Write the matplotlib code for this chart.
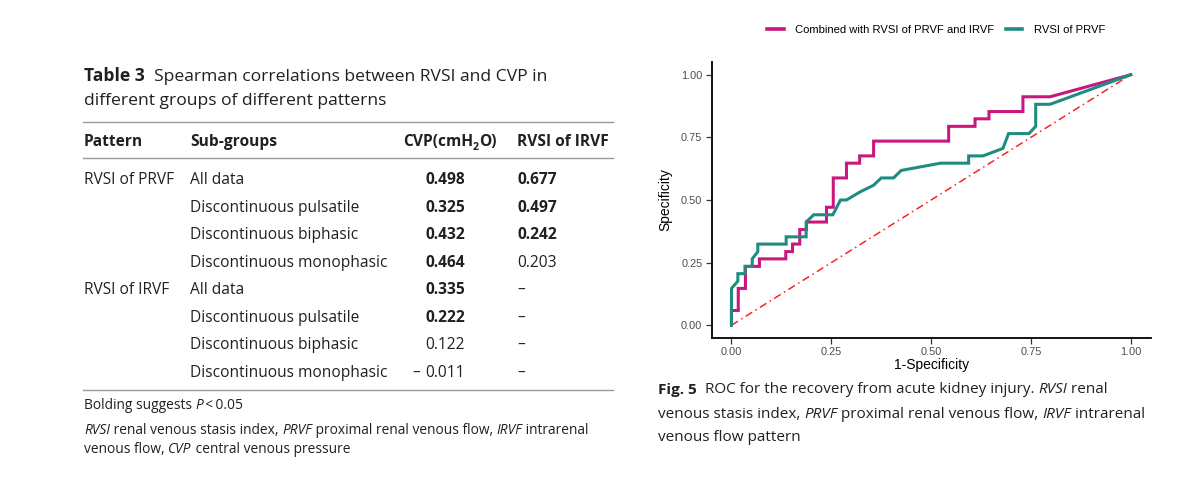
import matplotlib
matplotlib.use('Agg')
import matplotlib.pyplot as plt

# ---- table data ----
patterns = ['RVSI of PRVF', '', '', '', 'RVSI of IRVF', '', '', '']
subgroups = ['All data', 'Discontinuous pulsatile', 'Discontinuous biphasic',
             'Discontinuous monophasic', 'All data', 'Discontinuous pulsatile',
             'Discontinuous biphasic', 'Discontinuous monophasic']
cvp_rho = [0.498, 0.325, 0.432, 0.464, 0.335, 0.222, 0.122, -0.011]
cvp_sig = [True, True, True, True, True, True, False, False]
irvf_rho = [0.677, 0.497, 0.242, 0.203, None, None, None, None]
irvf_sig = [True, True, True, False, False, False, False, False]

# ---- ROC data ----
combo_fpr = [0, 0, 0.017, 0.017, 0.035, 0.035, 0.070, 0.070, 0.136, 0.136, 0.153, 0.153,
             0.171, 0.171, 0.188, 0.188, 0.238, 0.238, 0.255, 0.255, 0.288, 0.288, 0.321,
             0.321, 0.356, 0.356, 0.544, 0.544, 0.610, 0.610, 0.645, 0.645, 0.730, 0.730,
             0.798, 1.0]
combo_tpr = [0, 0.059, 0.059, 0.147, 0.147, 0.235, 0.235, 0.265, 0.265, 0.294, 0.294, 0.324,
             0.324, 0.382, 0.382, 0.412, 0.412, 0.471, 0.471, 0.588, 0.588, 0.647, 0.647,
             0.676, 0.676, 0.735, 0.735, 0.794, 0.794, 0.824, 0.824, 0.853, 0.853, 0.912,
             0.912, 1.0]
prvf_fpr = [0, 0, 0.016, 0.016, 0.034, 0.034, 0.052, 0.052, 0.066, 0.066, 0.137, 0.137,
            0.187, 0.187, 0.206, 0.254, 0.273, 0.288, 0.323, 0.356, 0.375, 0.406, 0.425,
            0.524, 0.594, 0.594, 0.630, 0.680, 0.694, 0.745, 0.762, 0.762, 0.798, 1.0]
prvf_tpr = [0, 0.147, 0.176, 0.206, 0.206, 0.235, 0.235, 0.265, 0.294, 0.324, 0.324, 0.353,
            0.353, 0.412, 0.441, 0.441, 0.500, 0.500, 0.533, 0.559, 0.588, 0.588, 0.618,
            0.647, 0.647, 0.676, 0.676, 0.706, 0.765, 0.765, 0.794, 0.882, 0.882, 1.0]

TXT = '#231F20'
RULE = '#9A9A9A'
MAGENTA = '#C8177F'
TEAL = '#1F8C82'
BODY = 'Open Sans'
FS = 11.2      # table body
TS = 12.6      # table title
NS = 9.9       # table footnotes
CS = 11.0      # figure caption

fig = plt.figure(figsize=(12, 4.9), dpi=100)
fig.patch.set_facecolor('white')

# overlay axes in pixel units for the typeset parts
ax0 = fig.add_axes([0, 0, 1, 1])
ax0.set_xlim(0, 1200)
ax0.set_ylim(490, 0)
ax0.axis('off')


def rich(x, y, parts, size=FS):
    t = None
    for s, st in parts:
        kw = dict(fontsize=size, color=TXT, fontfamily=BODY,
                  fontweight='bold' if st == 'b' else 'normal',
                  fontstyle='italic' if st == 'i' else 'normal')
        if t is None:
            t = ax0.text(x, y, s, ha='left', va='baseline', **kw)
        else:
            t = ax0.annotate(s, xy=(1, 0), xycoords=t, ha='left', va='bottom', **kw)
    return t


# ---- Table 3 ----
rich(84, 81, [('Table 3', 'b'), ('  Spearman correlations between RVSI and CVP in', 'r')], TS)
rich(84, 105, [('different groups of different patterns', 'r')], TS)

ax0.plot([83, 613], [122.5, 122.5], color=RULE, lw=1.0)
ax0.plot([83, 613], [158.5, 158.5], color=RULE, lw=1.0)
ax0.plot([83, 613], [390, 390], color=RULE, lw=1.0)

hy = 146
ax0.text(84, hy, 'Pattern', fontsize=FS, fontweight='bold', color=TXT, fontfamily=BODY, va='baseline')
ax0.text(190, hy, 'Sub-groups', fontsize=FS, fontweight='bold', color=TXT, fontfamily=BODY, va='baseline')
h1 = ax0.text(403, hy, 'CVP(cmH', fontsize=FS, fontweight='bold', color=TXT, fontfamily=BODY, va='baseline')
h2 = ax0.annotate('2', xy=(1, 0), xycoords=h1, xytext=(0, -2.5), textcoords='offset points',
                  fontsize=FS * 0.68, fontweight='bold', color=TXT, fontfamily=BODY, va='bottom')
ax0.annotate('O)', xy=(1, 0), xycoords=h2, xytext=(0, 2.5), textcoords='offset points',
             fontsize=FS, fontweight='bold', color=TXT, fontfamily=BODY, va='bottom')
ax0.text(517, hy, 'RVSI of IRVF', fontsize=FS, fontweight='bold', color=TXT, fontfamily=BODY, va='baseline')

for i in range(len(subgroups)):
    y = 184 + 27.55 * i
    if patterns[i]:
        ax0.text(84, y, patterns[i], fontsize=FS, color=TXT, fontfamily=BODY, va='baseline')
    ax0.text(190, y, subgroups[i], fontsize=FS, color=TXT, fontfamily=BODY, va='baseline')
    v = cvp_rho[i]
    w = 'bold' if cvp_sig[i] else 'normal'
    ax0.text(425, y, f'{abs(v):.3f}', fontsize=FS, fontweight=w, color=TXT,
             fontfamily=BODY, va='baseline')
    if v < 0:
        ax0.text(420, y, '\u2013', fontsize=FS, fontweight=w, color=TXT,
                 fontfamily=BODY, va='baseline', ha='right')
    r = irvf_rho[i]
    s = '\u2013' if r is None else f'{r:.3f}'
    ax0.text(517, y, s, fontsize=FS, fontweight='bold' if irvf_sig[i] else 'normal',
             color=TXT, fontfamily=BODY, va='baseline')

rich(84, 409, [('Bolding suggests ', 'r'), ('P', 'i'), ('\u2009<\u20090.05', 'r')], NS)
rich(84, 434, [('RVSI', 'i'), (' renal venous stasis index, ', 'r'), ('PRVF', 'i'),
               (' proximal renal venous flow, ', 'r'), ('IRVF', 'i'), (' intrarenal', 'r')], NS)
rich(84, 453, [('venous flow, ', 'r'), ('CVP', 'i'), (' central venous pressure', 'r')], NS)

# ---- Fig. 5 caption ----
rich(658, 394, [('Fig. 5', 'b'), ('  ROC for the recovery from acute kidney injury. ', 'r'),
                ('RVSI', 'i'), (' renal', 'r')], CS)
rich(658, 417.5, [('venous stasis index, ', 'r'), ('PRVF', 'i'),
                  (' proximal renal venous flow, ', 'r'), ('IRVF', 'i'), (' intrarenal', 'r')], CS)
rich(658, 441, [('venous flow pattern', 'r')], CS)

# ---- ROC plot ----
ax = fig.add_axes([711.5 / 1200, 1 - 337.8 / 490, 439.2 / 1200, 275.6 / 490])
ax.plot(combo_fpr, combo_tpr, color=MAGENTA, lw=2.2, label='Combined with RVSI of PRVF and IRVF',
        solid_joinstyle='miter', zorder=3)
ax.plot(prvf_fpr, prvf_tpr, color=TEAL, lw=2.2, label='RVSI of PRVF',
        solid_joinstyle='miter', zorder=4)
ax.plot([0, 1], [0, 1], color='#FF2020', lw=1.1, dashes=(5, 2.5, 1, 2.5), zorder=2)
ax.set_xlim(-0.05, 1.05)
ax.set_ylim(-0.05, 1.05)
ticks = [0, 0.25, 0.5, 0.75, 1.0]
ax.set_xticks(ticks)
ax.set_yticks(ticks)
ax.set_xticklabels(['0.00', '0.25', '0.50', '0.75', '1.00'])
ax.set_yticklabels(['0.00', '0.25', '0.50', '0.75', '1.00'])
for sp in ['top', 'right']:
    ax.spines[sp].set_visible(False)
for sp in ['left', 'bottom']:
    ax.spines[sp].set_linewidth(1.3)
    ax.spines[sp].set_color('black')
ax.tick_params(length=4, width=0.9, color='#333333', labelcolor='#4D4D4D', labelsize=7.9, pad=2.5)
for lab in ax.get_xticklabels() + ax.get_yticklabels():
    lab.set_fontfamily('Liberation Sans')
ax.set_xlabel('1-Specificity', fontsize=10, fontfamily='Liberation Sans', color='black', labelpad=1)
ax.set_ylabel('Specificity', fontsize=10, fontfamily='Liberation Sans', color='black', labelpad=6)
leg = fig.legend(loc='center', bbox_to_anchor=(936 / 1200, 1 - 30 / 490), ncol=2, frameon=False,
                 prop={'family': 'Liberation Sans', 'size': 8.1}, handlelength=1.5,
                 handletextpad=1.0, columnspacing=1.0)
for h in leg.get_lines():
    h.set_linewidth(2.6)

fig.savefig('out.png', dpi=100, facecolor='white')
